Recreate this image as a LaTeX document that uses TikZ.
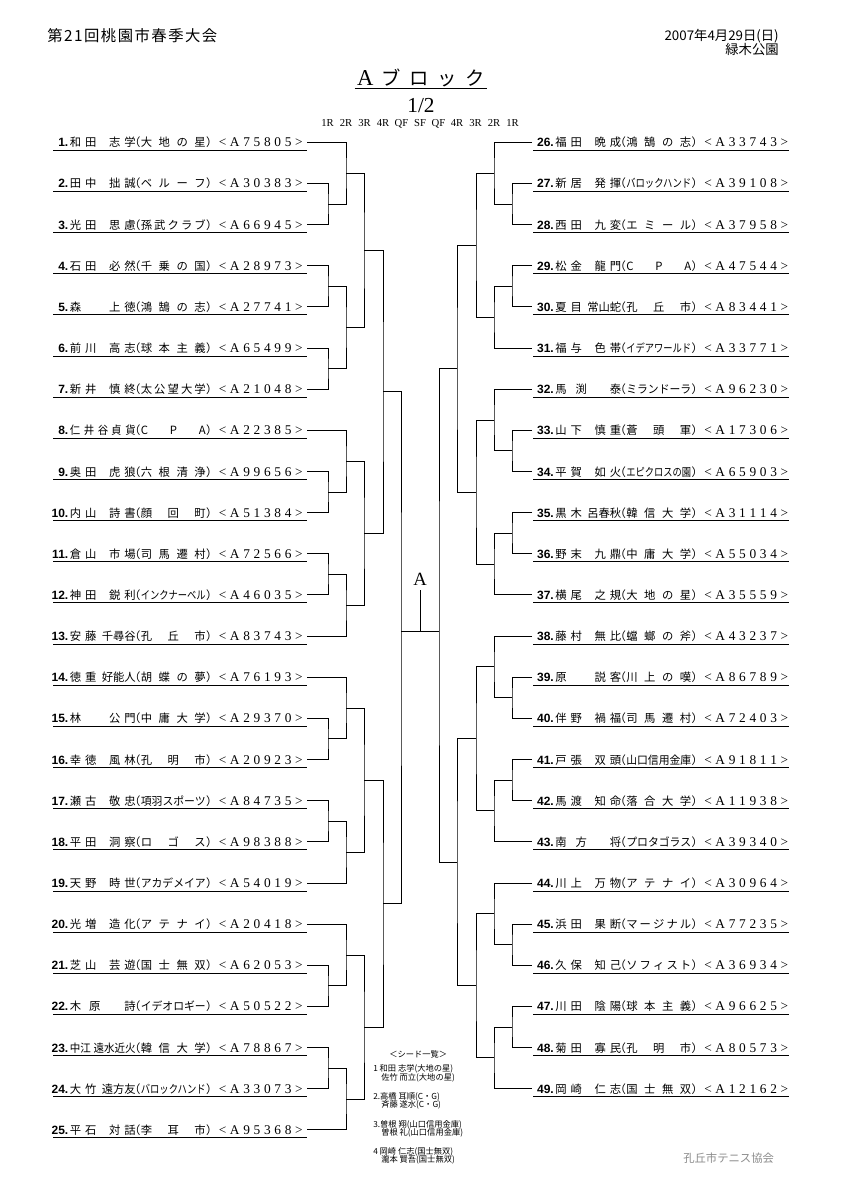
\documentclass[tikz,border=0pt]{standalone}
\usepackage{fontspec}
\usepackage{graphicx}
\newfontfamily\cjk{Noto Sans CJK JP}
\newfontfamily\serifL{Liberation Serif}
\newfontfamily\sansL{Liberation Sans}
\newdimen\px \px=0.75pt
\newbox\bxA \newbox\bxB \newbox\bxC
\makeatletter
\def\spr#1{\spr@a#1\relax}
\def\spr@a#1#2{#1\ifx\relax#2\else\hfil\expandafter\spr@a\expandafter#2\fi}
\makeatother
\newcommand\setY[2]{\expandafter\xdef\csname Y@#1\endcsname{#2}}
\newcommand\getY[1]{\csname Y@#1\endcsname}
\newcommand\dist[3]{%
  \setbox\bxC=\hbox{#2#3}%
  \ifdim\wd\bxC>#1\relax
    \resizebox{#1}{\height}{\box\bxC}%
  \else
    \hbox to #1{#2\spr{#3}}%
  \fi}
\newcommand\namefield[2]{%
  \setbox\bxA=\hbox{\spaceskip=4\px\relax#1}%
  \setbox\bxB=\hbox{\spaceskip=4\px\relax#2}%
  \dimen0=\dimexpr\wd\bxA+\wd\bxB+3\px\relax
  \ifdim\dimen0>66\px\relax
    \resizebox{66\px}{\height}{\hbox{\copy\bxA\kern3\px\copy\bxB}}%
  \else
    \hbox to 66\px{\copy\bxA\hfill\copy\bxB}%
  \fi}
\newcommand\entbody[6]{%
  \makebox[#1][r]{\sansL\bfseries\fontsize{9pt}{9pt}\selectfont #2}\kern1.5\px
  \namefield{#3}{#4}\kern-7\px
  \makebox[12\px][c]{（}%
  \dist{65\px}{}{#5}%
  \makebox[12\px][c]{）}\kern1\px
  \dist{84\px}{\serifL\fontsize{10pt}{10pt}\selectfont}{#6}}
\newcommand\entL[6]{%
  \pgfmathsetmacro\ey{142.3+#1*41.15}%
  \node[entry] (e#2) at (53,\ey+4.5) {\entbody{15\px}{#2.}{#3}{#4}{#5}{#6}\kern3.5\px};
  \coordinate (p#2) at (307,\ey);
  \setY{p#2}{\ey}%
  \draw[ul] ([yshift=-2.625pt]e#2.base west) -- ([yshift=-2.625pt]e#2.base east);}
\newcommand\entR[6]{%
  \pgfmathsetmacro\ey{142.3+#1*41.15}%
  \node[entry] (e#2) at (533,\ey+4.5) {\entbody{20.5\px}{#2.}{#3}{#4}{#5}{#6}};
  \coordinate (p#2) at (532,\ey);
  \setY{p#2}{\ey}%
  \draw[ul] ([yshift=-2.625pt]e#2.base west) -- ([yshift=-2.625pt]e#2.base east);}
\newcommand\match[4]{%
  \pgfmathsetmacro\my{(\getY{#3}+\getY{#4})/2}%
  \setY{#1}{\my}%
  \coordinate (#1) at (#2,\my);
  \draw[br] (#3) -| (#1) |- (#4);}
\begin{document}
\begin{tikzpicture}[x=0.75pt,y=-0.75pt,
  br/.style={line width=0.75pt},
  ul/.style={line width=0.75pt},
  entry/.style={inner sep=0pt, anchor=base west, font=\cjk\fontsize{8.5pt}{9pt}\selectfont},
  seed/.style={anchor=west, inner sep=0pt, font=\cjk\fontsize{6.2pt}{6.2pt}\selectfont},
  rnd/.style={anchor=base, inner sep=0pt, font=\serifL\fontsize{8pt}{8pt}\selectfont}]
\fill[white] (0,0) rectangle (841,1190);
\useasboundingbox (0,0) rectangle (841,1190);

% header
\node[anchor=west, inner sep=0pt, font=\cjk\fontsize{11.5pt}{12pt}\selectfont] (title) at (47,36) {\dist{170\px}{}{第21回桃園市春季大会}};
\node[anchor=east, inner sep=0pt, font=\cjk\fontsize{10pt}{11pt}\selectfont] (date) at (779,36) {2007年4月29日(日)};
\node[anchor=east, inner sep=0pt, font=\cjk\fontsize{10pt}{11pt}\selectfont] (place) at (779,49) {緑木公園};
\node[anchor=base, inner sep=0pt] (blk) at (421,85) {\hbox to 128\px{{\serifL\fontsize{17pt}{17pt}\selectfont A}\hfil{\cjk\fontsize{14.5pt}{15pt}\selectfont ブ\hfil ロ\hfil ッ\hfil ク}}};
\draw[ul] ([xshift=-1.5pt,yshift=-2.6pt]blk.base west) -- ([xshift=1.5pt,yshift=-2.6pt]blk.base east);
\node[anchor=base, inner sep=0pt, font=\serifL\fontsize{16pt}{16pt}\selectfont] (half) at (421,112) {1/2};
\foreach \t [count=\i] in {1R,2R,3R,4R,QF,SF,QF,4R,3R,2R,1R}
  \node[rnd] (rd\i) at ({420+18.5*(\i-6)},126) {\t};

% left entries
\entL{0}{1}{和 田}{志 学}{大地の星}{<A75805>}
\entL{1}{2}{田 中}{拙 誠}{ベルーフ}{<A30383>}
\entL{2}{3}{光 田}{思 慮}{孫武クラブ}{<A66945>}
\entL{3}{4}{石 田}{必 然}{千乗の国}{<A28973>}
\entL{4}{5}{森}{上 徳}{鴻鵠の志}{<A27741>}
\entL{5}{6}{前 川}{高 志}{球本主義}{<A65499>}
\entL{6}{7}{新 井}{慎 終}{太公望大学}{<A21048>}
\entL{7}{8}{仁 井 谷}{貞 貨}{CPA}{<A22385>}
\entL{8}{9}{奥 田}{虎 狼}{六根清浄}{<A99656>}
\entL{9}{10}{内 山}{詩 書}{顔回町}{<A51384>}
\entL{10}{11}{倉 山}{市 場}{司馬遷村}{<A72566>}
\entL{11}{12}{神 田}{鋭 利}{インクナーベル}{<A46035>}
\entL{12}{13}{安 藤}{千尋谷}{孔丘市}{<A83743>}
\entL{13}{14}{徳 重}{好能人}{胡蝶の夢}{<A76193>}
\entL{14}{15}{林}{公 門}{中庸大学}{<A29370>}
\entL{15}{16}{幸 徳}{風 林}{孔明市}{<A20923>}
\entL{16}{17}{瀬 古}{敬 忠}{項羽スポーツ}{<A84735>}
\entL{17}{18}{平 田}{洞 察}{ロゴス}{<A98388>}
\entL{18}{19}{天 野}{時 世}{アカデメイア}{<A54019>}
\entL{19}{20}{光 増}{造 化}{アテナイ}{<A20418>}
\entL{20}{21}{芝 山}{芸 遊}{国士無双}{<A62053>}
\entL{21}{22}{木\kern8\px 原}{詩}{イデオロギー}{<A50522>}
\entL{22}{23}{中江}{遠水近火}{韓信大学}{<A78867>}
\entL{23}{24}{大 竹}{遠方友}{バロックハンド}{<A33073>}
\entL{24}{25}{平 石}{対 話}{李耳市}{<A95368>}

% right entries
\entR{0}{26}{福 田}{晩 成}{鴻鵠の志}{<A33743>}
\entR{1}{27}{新 居}{発 揮}{バロックハンド}{<A39108>}
\entR{2}{28}{西 田}{九 変}{エミール}{<A37958>}
\entR{3}{29}{松 金}{龍 門}{CPA}{<A47544>}
\entR{4}{30}{夏 目}{常山蛇}{孔丘市}{<A83441>}
\entR{5}{31}{福 与}{色 帯}{イデアワールド}{<A33771>}
\entR{6}{32}{馬\kern9\px 渕}{泰}{ミランドーラ}{<A96230>}
\entR{7}{33}{山 下}{慎 重}{蒼頭軍}{<A17306>}
\entR{8}{34}{平 賀}{如 火}{エピクロスの園}{<A65903>}
\entR{9}{35}{黒 木}{呂春秋}{韓信大学}{<A31114>}
\entR{10}{36}{野 末}{九 鼎}{中庸大学}{<A55034>}
\entR{11}{37}{横 尾}{之 規}{大地の星}{<A35559>}
\entR{12}{38}{藤 村}{無 比}{蟷螂の斧}{<A43237>}
\entR{13}{39}{原}{説 客}{川上の嘆}{<A86789>}
\entR{14}{40}{伴 野}{禍 福}{司馬遷村}{<A72403>}
\entR{15}{41}{戸 張}{双 頭}{山口信用金庫}{<A91811>}
\entR{16}{42}{馬 渡}{知 命}{落合大学}{<A11938>}
\entR{17}{43}{南\kern9\px 方}{将}{プロタゴラス}{<A39340>}
\entR{18}{44}{川 上}{万 物}{アテナイ}{<A30964>}
\entR{19}{45}{浜 田}{果 断}{マージナル}{<A77235>}
\entR{20}{46}{久 保}{知 己}{ソフィスト}{<A36934>}
\entR{21}{47}{川 田}{陰 陽}{球本主義}{<A96625>}
\entR{22}{48}{菊 田}{寡 民}{孔明市}{<A80573>}
\entR{23}{49}{岡 崎}{仁 志}{国士無双}{<A12162>}

% left bracket
\match{a23}{328}{p2}{p3}
\match{a13}{346}{p1}{a23}
\match{a45}{328}{p4}{p5}
\match{a67}{328}{p6}{p7}
\match{a47}{346}{a45}{a67}
\match{a17}{364}{a13}{a47}
\match{a910}{328}{p9}{p10}
\match{a810}{346}{p8}{a910}
\match{a1112}{328}{p11}{p12}
\match{a1113}{346}{a1112}{p13}
\match{a813}{364}{a810}{a1113}
\match{aQa}{383}{a17}{a813}
\match{a1516}{328}{p15}{p16}
\match{a1416}{346}{p14}{a1516}
\match{a1718}{328}{p17}{p18}
\match{a1719}{346}{a1718}{p19}
\match{a1419}{364}{a1416}{a1719}
\match{a2122}{328}{p21}{p22}
\match{a2022}{346}{p20}{a2122}
\match{a2324}{328}{p23}{p24}
\match{a2325}{346}{a2324}{p25}
\match{a2025}{364}{a2022}{a2325}
\match{aQb}{383}{a1419}{a2025}

% right bracket
\match{b2728}{512}{p27}{p28}
\match{b2628}{494}{p26}{b2728}
\match{b2930}{512}{p29}{p30}
\match{b2931}{494}{b2930}{p31}
\match{b2631}{476}{b2628}{b2931}
\match{b3334}{512}{p33}{p34}
\match{b3234}{494}{p32}{b3334}
\match{b3536}{512}{p35}{p36}
\match{b3537}{494}{b3536}{p37}
\match{b3237}{476}{b3234}{b3537}
\match{bQa}{457}{b2631}{b3237}
\match{b3940}{512}{p39}{p40}
\match{b3840}{494}{p38}{b3940}
\match{b4142}{512}{p41}{p42}
\match{b4143}{494}{b4142}{p43}
\match{b3843}{476}{b3840}{b4143}
\match{b4546}{512}{p45}{p46}
\match{b4446}{494}{p44}{b4546}
\match{b4748}{512}{p47}{p48}
\match{b4749}{494}{b4748}{p49}
\match{b4449}{476}{b4446}{b4749}
\match{bQb}{457}{b3843}{b4449}

% semis and final
\coordinate (SL) at (401,631);
\coordinate (SR) at (439,631);
\coordinate (F) at (420,631);
\draw[br] (aQa) -| (SL) |- (aQb);
\draw[br] (bQa) -| (SR) |- (bQb);
\draw[br] (SL) -- (SR);
\node[anchor=south, inner sep=0pt, font=\serifL\fontsize{14pt}{14pt}\selectfont] (champ) at (420,586) {A};
\draw[br] (F) -- ([yshift=-3pt]champ.south);

% seed list
\node[seed] (s0) at (389,1054) {＜シード一覧＞};
\node[seed] (s1a) at (373,1069) {1 和田 志学(大地の星)};
\node[seed] (s1b) at (381,1078) {佐竹 而立(大地の星)};
\node[seed] (s2a) at (373,1097) {2.高橋 耳順(C・G)};
\node[seed] (s2b) at (381,1105) {斉藤 遂水(C・G)};
\node[seed] (s3a) at (373,1125) {3.曽根 翔(山口信用金庫)};
\node[seed] (s3b) at (381,1133) {曽根 礼(山口信用金庫)};
\node[seed] (s4a) at (373,1152) {4 岡崎 仁志(国士無双)};
\node[seed] (s4b) at (381,1160) {瀧本 賢吾(国士無双)};

% footer
\node[anchor=west, inner sep=0pt, text=black!45, font=\cjk\fontsize{8.5pt}{9pt}\selectfont] (org) at (683,1158) {孔丘市テニス協会};
\end{tikzpicture}
\end{document}
